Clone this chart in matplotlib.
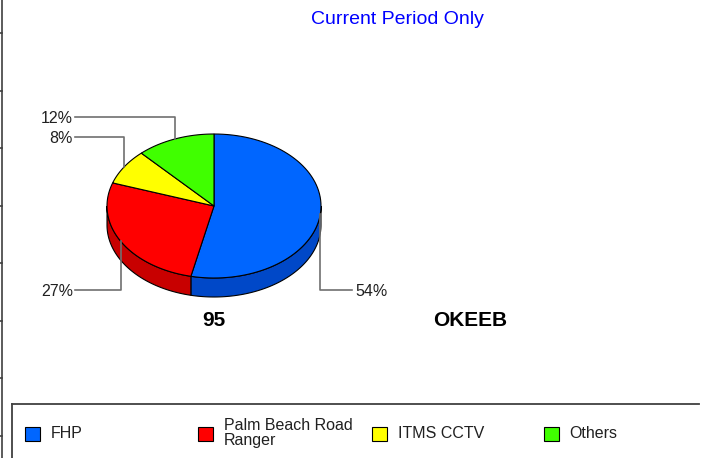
import numpy as np
import matplotlib.pyplot as plt
from matplotlib.patches import Polygon, Rectangle

plt.rcParams['font.family'] = ['Liberation Sans', 'DejaVu Sans']

# data
categories = ["FHP", "Palm Beach Road\nRanger", "ITMS CCTV", "Others"]
shares = [54, 27, 8, 12]          # percent
site_id = "95"
site_name = "OKEEB"
title = "Current Period Only"

top_colors = ["#0066FF", "#FF0000", "#FFFF00", "#40FF00"]
side_colors = ["#0048C8", "#C80000", "#C8C800", "#30C800"]

# layout (pixel coordinates, y grows downward)
W, H = 706, 458
cx, cy, rx, ry, depth = 214, 206, 107, 72, 19
label_y = [290, 290, 137, 117]
left_text_x, left_line_x = 73, 75
right_text_x, right_line_x = 355, 352
legend_x = [25, 198, 372, 544]
legend_y = 433.5
line_clr = "#707070"

fig = plt.figure(figsize=(W / 100, H / 100), dpi=100)
ax = fig.add_axes([0, 0, 1, 1])
ax.set_xlim(0, W)
ax.set_ylim(H, 0)
ax.axis('off')


def ellipse_pts(t0, t1, dy=0, n=80):
    t = np.radians(np.linspace(t0, t1, n))
    return np.column_stack([cx + rx * np.cos(t), cy - ry * np.sin(t) + dy])


fracs = np.array(shares) / np.sum(shares)
bounds = 90 - 360 * np.concatenate([[0], np.cumsum(fracs)])

# side walls (only the front half, angles between -180 and 0)
for i in range(len(shares)):
    hi, lo = bounds[i], bounds[i + 1]
    a, b = min(hi, 0), max(lo, -180)
    if a <= b:
        continue
    top = ellipse_pts(a, b)
    bot = ellipse_pts(b, a, dy=depth)
    ax.add_patch(Polygon(np.vstack([top, bot]), closed=True, facecolor=side_colors[i],
                         edgecolor='black', linewidth=0.8, zorder=1))

# top faces
for i in range(len(shares)):
    arc = ellipse_pts(bounds[i], bounds[i + 1])
    pts = np.vstack([[cx, cy], arc])
    ax.add_patch(Polygon(pts, closed=True, facecolor=top_colors[i],
                         edgecolor='black', linewidth=0.8, zorder=2))

# percent labels with elbow leader lines
for i, s in enumerate(shares):
    mid = np.radians((bounds[i] + bounds[i + 1]) / 2)
    px = cx + rx * np.cos(mid)
    py = cy - ry * np.sin(mid)
    ly = label_y[i]
    if np.cos(mid) < 0:
        ax.plot([px, px, left_line_x], [py, ly, ly], color=line_clr, lw=1.2, zorder=3)
        ax.text(left_text_x, ly + 6, f"{s}%", ha='right', va='baseline', fontsize=11.5, color='#202020')
    else:
        ax.plot([px, px, right_line_x], [py, ly, ly], color=line_clr, lw=1.2, zorder=3)
        ax.text(right_text_x, ly + 6, f"{s}%", ha='left', va='baseline', fontsize=11.5, color='#202020')

ax.text(397, 23.5, title, ha='center', va='baseline', fontsize=14, color='#0000FF')
ax.text(213.5, 326, site_id, ha='center', va='baseline', fontsize=15, fontweight='bold', color='black')
ax.text(470, 326, site_name, ha='center', va='baseline', fontsize=15, fontweight='bold', color='black')

# left axis line with ticks
ax.plot([2, 2], [0, H], color='#404040', lw=1.2)
for ty in np.arange(33, H, 57.5):
    ax.plot([0, 2], [ty, ty], color='#404040', lw=1.2)

# legend frame (open at right and bottom)
ax.plot([12, 699], [404, 404], color='#404040', lw=1.3)
ax.plot([12, 12], [404, H], color='#404040', lw=1.3)

for x, name, clr in zip(legend_x, categories, top_colors):
    ax.add_patch(Rectangle((x, legend_y - 7), 15, 14, facecolor=clr, edgecolor='black', linewidth=0.8))
    ax.text(x + 25.5, legend_y, name, ha='left', va='center', fontsize=11.5,
            color='#202020', linespacing=1.0)

fig.savefig("out.png", dpi=100)
